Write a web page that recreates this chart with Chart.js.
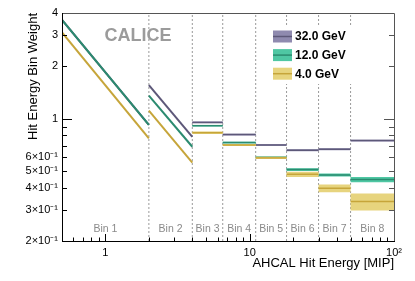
<!DOCTYPE html>
<html>
<head>
<meta charset="utf-8">
<script src="https://cdn.jsdelivr.net/npm/chart.js@4/dist/chart.umd.min.js"></script>
<style>
  body { margin: 0; background: #fff; }
</style>
</head>
<body>
<canvas id="weights" width="415" height="281"></canvas>
<script>
const binEdges = [0.5, 2, 4, 6.5, 11, 18, 30, 50, 100];
const binNames = ["Bin 1", "Bin 2", "Bin 3", "Bin 4", "Bin 5", "Bin 6", "Bin 7", "Bin 8"];
const seriesNames = ["32.0 GeV", "12.0 GeV", "4.0 GeV"];

// bins 1-2: weight at the lower and upper bin edge
const slopeStart32 = [3.65, 1.55];
const slopeEnd32 = [0.92, 0.785];
const slopeStart12 = [3.65, 1.35];
const slopeEnd12 = [0.92, 0.69];
const slopeStart4 = [3.1, 1.11];
const slopeEnd4 = [0.77, 0.56];

// bins 3-8: constant weight and its uncertainty
const flat32 = [0.95, 0.81, 0.706, 0.659, 0.668, 0.748];
const err32 = [0.01, 0.009, 0.008, 0.008, 0.008, 0.008];
const flat12 = [0.91, 0.729, 0.6, 0.511, 0.476, 0.448];
const err12 = [0.009, 0.009, 0.008, 0.009, 0.009, 0.015];
const flat4 = [0.83, 0.706, 0.596, 0.48, 0.4, 0.336];
const err4 = [0.013, 0.01, 0.009, 0.016, 0.02, 0.037];

const yTickValues = [0.2, 0.3, 0.4, 0.5, 0.6, 0.7, 0.8, 0.9, 1, 2, 3, 4];
const yTickLabels = ["2×10⁻¹", "3×10⁻¹", "4×10⁻¹", "5×10⁻¹", "6×10⁻¹", "", "", "", "1", "2", "3", "4"];
const xTickValues = [0.6, 0.7, 0.8, 0.9, 1, 2, 3, 4, 5, 6, 7, 8, 9, 10, 20, 30, 40, 50, 60, 70, 80, 90, 100];
const xTickLabels = ["", "", "", "", "1", "", "", "", "", "", "", "", "", "10", "", "", "", "", "", "", "", "", "10²"];

const FONT = "'Liberation Sans', Arial, sans-serif";
const lineColors = ["#5d5879", "#2b8b70", "#c6a53a"];
const bandColors = ["#8f8aaf", "#4fc7a3", "#e7d47e"];

const seriesData = [
  [slopeStart32, slopeEnd32, flat32, err32],
  [slopeStart12, slopeEnd12, flat12, err12],
  [slopeStart4, slopeEnd4, flat4, err4]
];

const line = (points, color, width, order, extra) =>
  Object.assign({
    data: points,
    borderColor: color,
    borderWidth: width,
    pointRadius: 0,
    fill: false,
    tension: 0,
    order: order
  }, extra || {});

const datasets = [];

// dashed bin separators
binEdges.slice(1, -1).forEach((edge) => {
  datasets.push(line([{ x: edge, y: 0.2 }, { x: edge, y: 4 }], "#9a9a9a", 1, 30, { borderDash: [2, 2] }));
});

seriesData.forEach(([start, end, flat, err], s) => {
  const lineOrder = 10 - s * 2;
  start.forEach((v, i) => {
    datasets.push(line([{ x: binEdges[i], y: v }, { x: binEdges[i + 1], y: end[i] }],
      lineColors[s], 2, lineOrder));
  });
  flat.forEach((v, k) => {
    const x0 = binEdges[k + 2];
    const x1 = binEdges[k + 3];
    datasets.push(line([
      { x: x0, y: v + err[k] }, { x: x1, y: v + err[k] },
      { x: x1, y: v - err[k] }, { x: x0, y: v - err[k] }
    ], "rgba(0,0,0,0)", 0, lineOrder + 1, { fill: "shape", backgroundColor: bandColors[s] }));
    datasets.push(line([{ x: x0, y: v }, { x: x1, y: v }], lineColors[s], 1.5, lineOrder));
  });
});

// ROOT style frame: inward ticks, bin labels, CALICE tag and legend
const frame = {
  id: "frame",
  afterDatasetsDraw(chart) {
    const { ctx, chartArea: a, scales: { x, y } } = chart;
    ctx.save();
    ctx.lineWidth = 1;
    y.ticks.forEach((t) => {
      const py = Math.round(y.getPixelForValue(t.value)) + 0.5;
      const len = t.value === 1 ? 10 : 5;
      ctx.strokeStyle = "#000";
      ctx.beginPath();
      ctx.moveTo(a.left, py);
      ctx.lineTo(a.left + len, py);
      ctx.stroke();
      ctx.strokeStyle = "#555";
      ctx.beginPath();
      ctx.moveTo(a.right, py);
      ctx.lineTo(a.right - len, py);
      ctx.stroke();
    });
    ctx.strokeStyle = "#000";
    x.ticks.forEach((t) => {
      const px = Math.round(x.getPixelForValue(t.value)) + 0.5;
      const len = [1, 10, 100].includes(t.value) ? 7 : 3.5;
      ctx.beginPath();
      ctx.moveTo(px, a.bottom);
      ctx.lineTo(px, a.bottom - len);
      ctx.stroke();
    });
    ctx.strokeStyle = "#555";
    ctx.beginPath();
    ctx.moveTo(a.left, a.top + 0.5);
    ctx.lineTo(a.right + 0.5, a.top + 0.5);
    ctx.lineTo(a.right + 0.5, a.bottom);
    ctx.stroke();
    ctx.strokeStyle = "#000";
    ctx.beginPath();
    ctx.moveTo(a.left + 0.5, a.top);
    ctx.lineTo(a.left + 0.5, a.bottom + 0.5);
    ctx.lineTo(a.right + 1, a.bottom + 0.5);
    ctx.stroke();

    // bin labels
    ctx.fillStyle = "#8a8a8a";
    ctx.font = "10.5px " + FONT;
    ctx.textAlign = "center";
    ctx.textBaseline = "middle";
    binNames.forEach((name, i) => {
      const mid = Math.sqrt(binEdges[i] * binEdges[i + 1]);
      ctx.fillText(name, x.getPixelForValue(mid), a.bottom - 12);
    });

    ctx.fillStyle = "#9b9b9b";
    ctx.font = "bold 18px " + FONT;
    ctx.textBaseline = "alphabetic";
    ctx.fillText("CALICE", 138, 41);

    // legend
    ctx.fillStyle = "#fff";
    ctx.fillRect(266, 27, 104, 57);
    ctx.textAlign = "left";
    ctx.textBaseline = "middle";
    ctx.font = "bold 12px " + FONT;
    seriesNames.forEach((name, s) => {
      const top = 30.5 + s * 18.6;
      ctx.fillStyle = bandColors[s];
      ctx.fillRect(273, top, 19, 12);
      ctx.strokeStyle = lineColors[s];
      ctx.lineWidth = 1.5;
      ctx.beginPath();
      ctx.moveTo(273, top + 6);
      ctx.lineTo(292, top + 6);
      ctx.stroke();
      ctx.fillStyle = "#000";
      ctx.fillText(name, 295, top + 6.5);
    });
    ctx.restore();
  }
};

const pickTicks = (values) => (scale) => {
  scale.ticks = values.map((v) => ({ value: v }));
};

new Chart(document.getElementById("weights").getContext("2d"), {
  type: "line",
  data: { datasets: datasets },
  options: {
    responsive: false,
    animation: false,
    events: [],
    layout: { padding: { top: 13, right: 21, bottom: 0, left: 0 } },
    plugins: {
      legend: { display: false },
      tooltip: { enabled: false }
    },
    scales: {
      x: {
        type: "logarithmic",
        min: 0.5,
        max: 100,
        afterBuildTicks: pickTicks(xTickValues),
        afterFit: (scale) => { scale.height = 40; },
        grid: { display: false, drawTicks: false },
        border: { display: false },
        ticks: {
          autoSkip: false,
          maxRotation: 0,
          padding: 5,
          color: "#000",
          font: { family: FONT, size: 11 },
          callback: (value, index) => xTickLabels[index]
        },
        title: {
          display: true,
          text: "AHCAL Hit Energy [MIP]",
          align: "end",
          color: "#000",
          font: { family: FONT, size: 13 },
          padding: { top: 0, bottom: 10 }
        }
      },
      y: {
        type: "logarithmic",
        min: 0.2,
        max: 4,
        afterBuildTicks: pickTicks(yTickValues),
        afterFit: (scale) => { scale.width = 62; },
        grid: { display: false, drawTicks: false },
        border: { display: false },
        ticks: {
          autoSkip: false,
          padding: 4,
          color: "#000",
          font: { family: FONT, size: 11 },
          callback: (value, index) => yTickLabels[index]
        },
        title: {
          display: true,
          text: "Hit Energy Bin Weight",
          align: "end",
          color: "#000",
          font: { family: FONT, size: 13 },
          padding: { top: 26, bottom: 0 }
        }
      }
    }
  },
  plugins: [frame]
});
</script>
</body>
</html>
